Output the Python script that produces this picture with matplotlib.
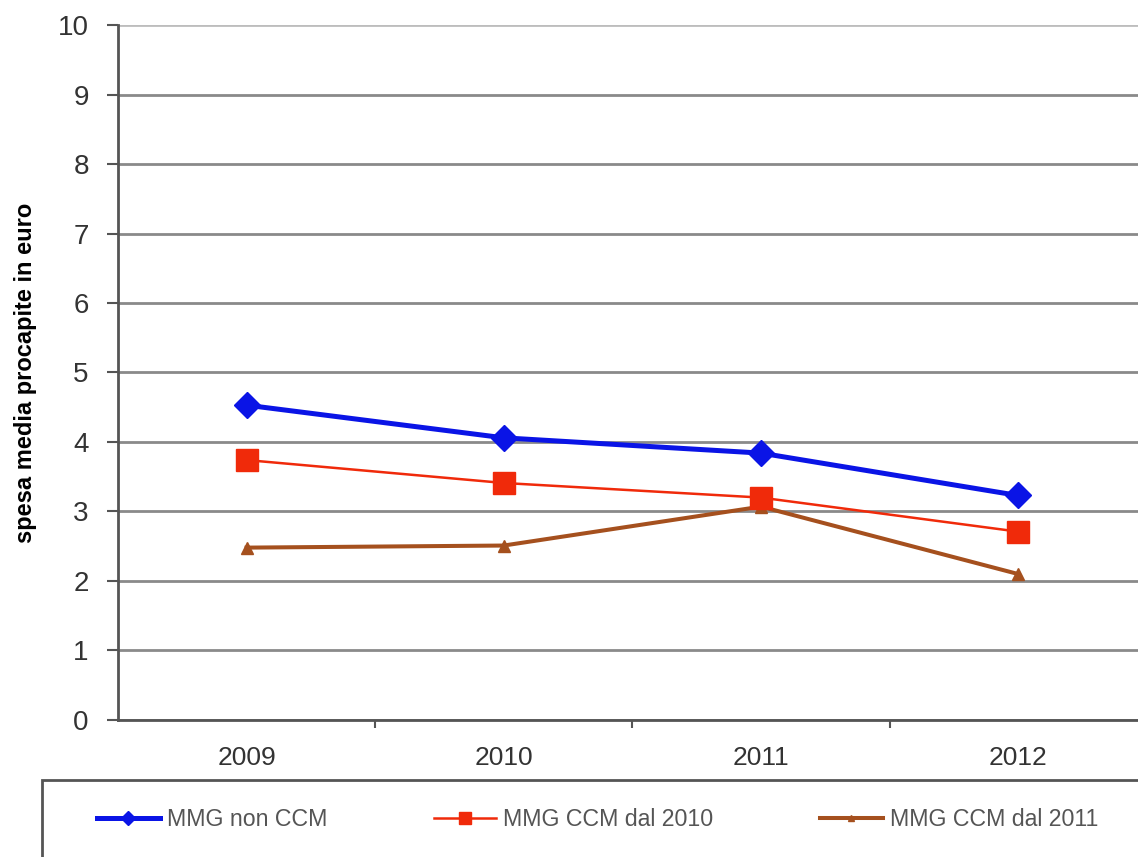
import matplotlib
matplotlib.use("Agg")
import matplotlib.pyplot as plt
from matplotlib.patches import Rectangle

plt.rcParams['font.family'] = ['Liberation Sans', 'DejaVu Sans']

anni = ['2009', '2010', '2011', '2012']
mmg_non_ccm = [4.53, 4.06, 3.84, 3.23]
mmg_ccm_2010 = [3.74, 3.41, 3.20, 2.71]
mmg_ccm_2011 = [2.48, 2.51, 3.07, 2.10]

fig = plt.figure(figsize=(11.38, 8.57), dpi=100)
ax = fig.add_axes([0.1037, 0.1599, 0.904, 0.8109])

x = list(range(len(anni)))
ax.plot(x, mmg_non_ccm, color='#0a14e6', lw=3.6, marker='D', ms=13.5,
        label='MMG non CCM', zorder=5)
ax.plot(x, mmg_ccm_2010, color='#f02a0a', lw=1.8, marker='s', ms=15.5,
        label='MMG CCM dal 2010', zorder=4)
ax.plot(x, mmg_ccm_2011, color='#a5501e', lw=2.9, marker='^', ms=9,
        label='MMG CCM dal 2011', zorder=3)

ax.set_xlim(-0.5, 3.5)
ax.set_ylim(0, 10)
ax.set_yticks(range(0, 11))
ax.set_xticks(x)
ax.set_xticklabels(anni)
ax.set_xticks([0.5, 1.5, 2.5], minor=True)

ax.grid(axis='y', color='#8a8a8a', lw=2)
ax.set_axisbelow(True)
for s in ['top', 'right']:
    ax.spines[s].set_visible(False)
ax.spines['left'].set_color('#555555')
ax.spines['left'].set_linewidth(2)
ax.spines['bottom'].set_color('#555555')
ax.spines['bottom'].set_linewidth(2)
# top gridline is lighter
ax.get_ygridlines()[-1].set_color('#bdbdbd')

ax.tick_params(axis='y', length=8, width=1.5, color='#555555', pad=13,
               labelsize=20, labelcolor='#333333')
ax.tick_params(axis='x', which='major', length=0, pad=19, labelsize=19,
               labelcolor='#333333')
ax.tick_params(axis='x', which='minor', length=6, width=1.5, color='#555555')

fig.text(0.022, 0.565, 'spesa media procapite in euro', rotation=90,
         ha='center', va='center', fontsize=17, fontweight='bold')

# box around the legend, running off the right and bottom edges
fig.patches.append(Rectangle((0.037, -0.05), 1.0, 0.14, transform=fig.transFigure,
                             fill=False, ec='#555555', lw=2))

leg = fig.legend(loc='center left', bbox_to_anchor=(0.067, 0.044), ncol=3,
                 frameon=False, fontsize=16.7, handlelength=2.7,
                 handletextpad=0.3, columnspacing=4.6, markerscale=0.55)
for t in leg.get_texts():
    t.set_color('#555555')

fig.savefig('out.png', dpi=100)
